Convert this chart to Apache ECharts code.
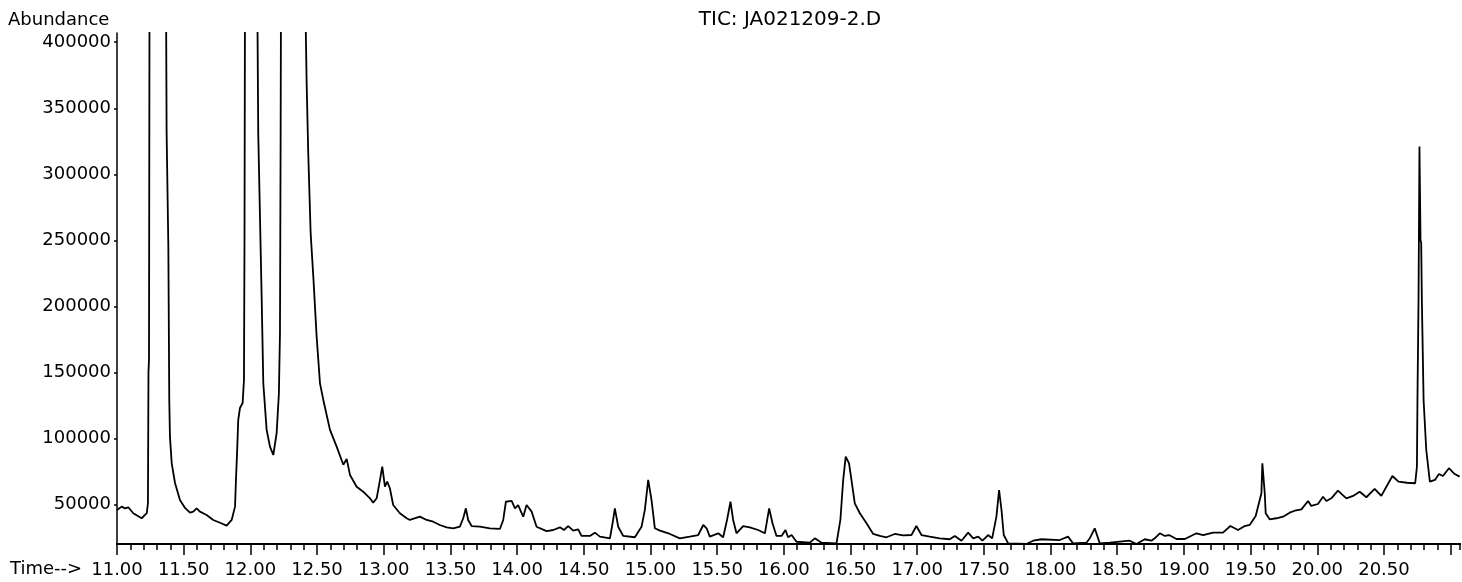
<!DOCTYPE html>
<html>
<head>
<meta charset="utf-8">
<script src="https://cdn.jsdelivr.net/npm/echarts@6/dist/echarts.min.js"></script>
<style>
html,body{margin:0;padding:0;background:#fff;}
#chart{width:1462px;height:582px;}
</style>
</head>
<body>
<div id="chart"></div>
<script>
// ---- Data ----
const chartTitle = 'TIC: JA021209-2.D';
const yAxisTitle = 'Abundance';
const xAxisTitle = 'Time-->';

// retention time (min)
const times = [
 11.000,11.035,11.060,11.085,11.122,11.185,11.223,11.232,11.236,11.240,11.244,11.300,
 11.367,11.372,11.385,11.392,11.397,11.410,11.435,11.472,11.510,11.547,11.572,11.597,
 11.622,11.672,11.722,11.772,11.822,11.860,11.885,11.892,11.902,11.909,11.922,11.942,
 11.952,11.956,11.960,12.000,12.051,12.059,12.072,12.085,12.097,12.122,12.147,12.172,
 12.197,12.214,12.222,12.227,12.230,12.320,12.409,12.422,12.434,12.452,12.472,12.497,
 12.522,12.547,12.597,12.647,12.697,12.722,12.747,12.797,12.846,12.897,12.921,12.947,
 12.972,12.989,13.009,13.026,13.046,13.071,13.121,13.172,13.196,13.271,13.322,13.371,
 13.421,13.472,13.521,13.571,13.596,13.616,13.633,13.659,13.721,13.796,13.871,13.896,
 13.916,13.959,13.984,14.008,14.034,14.046,14.071,14.109,14.146,14.221,14.271,14.321,
 14.351,14.383,14.421,14.458,14.483,14.546,14.583,14.621,14.696,14.716,14.733,14.758,
 14.796,14.883,14.933,14.958,14.983,15.008,15.033,15.071,15.146,15.220,15.295,15.358,
 15.396,15.421,15.445,15.508,15.545,15.574,15.600,15.620,15.645,15.695,15.745,15.807,
 15.858,15.890,15.915,15.945,15.983,16.012,16.032,16.058,16.095,16.195,16.232,16.283,
 16.395,16.424,16.445,16.464,16.489,16.507,16.532,16.570,16.620,16.670,16.720,16.770,
 16.832,16.895,16.957,16.994,17.032,17.094,17.169,17.244,17.282,17.332,17.382,17.420,
 17.457,17.489,17.532,17.562,17.594,17.614,17.632,17.649,17.682,17.819,17.869,17.932,
 18.069,18.131,18.168,18.269,18.294,18.331,18.369,18.444,18.594,18.644,18.706,18.756,
 18.781,18.819,18.857,18.888,18.944,19.007,19.094,19.144,19.219,19.293,19.348,19.406,
 19.456,19.493,19.538,19.581,19.588,19.606,19.613,19.643,19.693,19.743,19.793,19.831,
 19.881,19.931,19.955,20.005,20.043,20.068,20.105,20.155,20.218,20.268,20.318,20.368,
 20.430,20.480,20.518,20.563,20.609,20.672,20.734,20.747,20.751,20.759,20.766,20.774,
 20.779,20.784,20.797,20.817,20.834,20.844,20.882,20.912,20.942,20.987,21.030,21.067
];

// total ion abundance (off-scale peaks continue above the plot top)
const abundance = [
 45800,48300,47000,47800,43300,39500,43300,50800,150000,160000,450000,600000,
 450000,331400,245200,129100,101300,81300,66200,53300,47300,43700,44500,47000,
 44500,42000,38200,36100,33900,38200,48300,68500,93700,113900,123000,126800,
 144200,250000,450000,600000,450000,331400,268000,204800,141700,106400,93700,87400,
 104000,134200,179900,331400,450000,600000,450000,369000,316000,255400,222500,177000,
 141700,129100,106400,93700,80000,84500,72300,63400,59600,54600,51300,54600,
 68500,78600,63400,67200,62200,49500,43300,39500,38200,40700,38200,36900,
 34400,32600,31900,33100,39500,47000,38200,33600,33100,31900,31400,38200,
 52000,52600,47000,49500,43300,40700,49500,44500,33100,29800,30600,32600,
 30600,33600,30100,31100,26100,26100,28600,25600,24300,35700,47000,33100,
 26100,25100,33100,45800,68500,53300,31900,30100,27600,24300,25600,26800,
 34400,31900,25600,28100,25100,38200,52000,38200,28100,33600,32600,30600,
 28100,47000,35700,26100,26100,30600,25100,26800,21700,21000,24300,21000,
 20500,38200,68500,86100,81100,68500,50800,43300,35700,27600,26100,25100,
 27600,26600,26800,33600,26800,25600,24300,23600,26100,22500,28600,24300,
 25600,22500,26800,24300,40700,60900,45800,26800,20500,20000,22500,23600,
 23000,25600,20500,21000,24300,31900,20500,21000,22500,20000,23600,22500,
 24300,28100,26100,26800,23800,23800,28100,26800,28600,28600,33600,30600,
 33600,34400,41200,58400,81100,58400,43300,38700,39500,40700,43700,45200,
 46200,52600,48800,50300,55800,52600,54600,60400,54600,56400,59600,55400,
 61700,56400,63400,71500,67200,66400,66000,78600,129100,204800,321000,250300,
 248000,204800,129100,91200,76100,67200,68500,73000,71500,77400,73000,71000
];

// axis ticks
const xTickLabels = [11.00,11.50,12.00,12.50,13.00,13.50,14.00,14.50,15.00,15.50,16.00,16.50,17.00,17.50,18.00,18.50,19.00,19.50,20.00,20.50];
const xMajorTicks = xTickLabels.concat([21.00]);
const yTickLabels = [50000,100000,150000,200000,250000,300000,350000,400000];
const xRange = [11.0, 21.07];
const yRange = [20000, 407000];

// ---- Chart ----
const seriesData = times.map((t, i) => [t, abundance[i]]);

const FONT = 'DejaVu Sans';
const gridPos = { left: 117, right: 2, top: 33, bottom: 38 };

const chart = echarts.init(document.getElementById('chart'), null, { renderer: 'canvas' });
chart.setOption({
  animation: false,
  backgroundColor: '#ffffff',
  grid: [
    Object.assign({}, gridPos, { containLabel: false }),
    Object.assign({}, gridPos, { containLabel: false })
  ],
  xAxis: [
    {
      type: 'value', gridIndex: 0, min: xRange[0], max: xRange[1],
      axisLine: { show: true, onZero: false, lineStyle: { color: '#000', width: 2 } },
      axisTick: { show: true, customValues: xMajorTicks, length: 11, inside: false, lineStyle: { color: '#000', width: 1.5 } },
      axisLabel: { show: true, customValues: xTickLabels, formatter: v => Number(v).toFixed(2),
        color: '#000', fontFamily: FONT, fontSize: 18, margin: 17 },
      splitLine: { show: false }
    },
    {
      type: 'value', gridIndex: 1, min: xRange[0], max: xRange[1], interval: 0.1, position: 'bottom',
      axisLine: { show: true, onZero: false, lineStyle: { color: '#000', width: 2 } },
      axisTick: { show: true, length: 6, lineStyle: { color: '#000', width: 1.5 } },
      axisLabel: { show: false },
      splitLine: { show: false }
    }
  ],
  yAxis: [
    {
      type: 'value', gridIndex: 0, min: yRange[0], max: yRange[1],
      axisLine: { show: true, onZero: false, lineStyle: { color: '#000', width: 1.5 } },
      axisTick: { show: true, customValues: yTickLabels, length: 3, lineStyle: { color: '#000', width: 1.5 } },
      axisLabel: { show: true, customValues: yTickLabels, formatter: v => String(v),
        color: '#000', fontFamily: FONT, fontSize: 18, margin: 6 },
      splitLine: { show: false }
    },
    {
      type: 'value', gridIndex: 1, min: yRange[0], max: yRange[1],
      axisLine: { show: false }, axisTick: { show: false }, axisLabel: { show: false }, splitLine: { show: false }
    }
  ],
  graphic: [
    { type: 'text', left: 8, top: 11, style: { text: yAxisTitle, font: '18px "' + FONT + '"', fill: '#000' } },
    { type: 'text', x: 790, y: 20, style: { text: chartTitle, font: '20px "' + FONT + '"', fill: '#000', align: 'center', verticalAlign: 'middle' } },
    { type: 'text', x: 10, y: 569, style: { text: xAxisTitle, font: '18px "' + FONT + '"', fill: '#000', align: 'left', verticalAlign: 'middle' } }
  ],
  series: [
    {
      type: 'line', xAxisIndex: 0, yAxisIndex: 0,
      data: seriesData, showSymbol: false, symbol: 'none', clip: true,
      lineStyle: { color: '#000', width: 1.8 }, sampling: null, smooth: false
    },
    {
      type: 'line', xAxisIndex: 1, yAxisIndex: 1, data: [[11, 20000]], showSymbol: false, silent: true,
      lineStyle: { opacity: 0 }
    }
  ]
});
</script>
</body>
</html>
